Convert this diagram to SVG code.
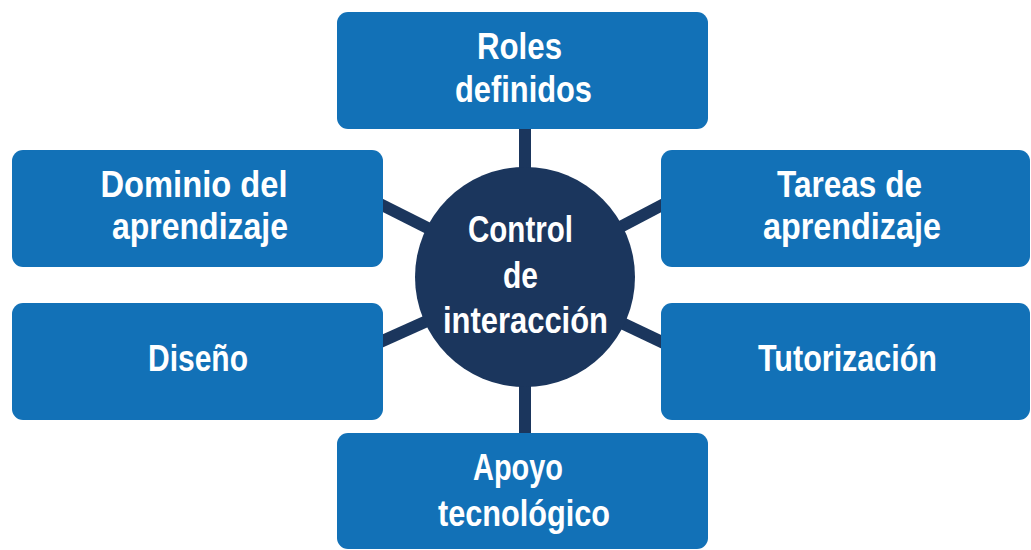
<svg xmlns="http://www.w3.org/2000/svg" width="1031" height="550" viewBox="0 0 1031 550">
<style>
.box{fill:#1271b7}
.hub{fill:#1b365d}
.conn{stroke:#1b365d;stroke-width:12;fill:none}
text{font-family:"Liberation Sans",Arial,sans-serif;font-weight:bold;font-size:37px;fill:#ffffff;text-anchor:middle}
</style>
<rect width="1031" height="550" fill="#ffffff"/>
<g id="connectors">
<line class="conn" x1="525" y1="277" x2="525" y2="125"/>
<line class="conn" x1="525" y1="277" x2="525" y2="438"/>
<line class="conn" x1="525" y1="277" x2="378" y2="203"/>
<line class="conn" x1="525" y1="277" x2="378" y2="343"/>
<line class="conn" x1="525" y1="277" x2="666" y2="203"/>
<line class="conn" x1="525" y1="277" x2="666" y2="344"/>
</g>
<g id="roles">
<rect class="box" x="337" y="12" width="371" height="117" rx="11"/>
<text x="519.5" y="59" textLength="85" lengthAdjust="spacingAndGlyphs">Roles</text>
<text x="523.5" y="102" textLength="137" lengthAdjust="spacingAndGlyphs">definidos</text>
</g>
<g id="dominio">
<rect class="box" x="12" y="150" width="371" height="117" rx="11"/>
<text x="194" y="197" textLength="187" lengthAdjust="spacingAndGlyphs">Dominio del</text>
<text x="200" y="239" textLength="176" lengthAdjust="spacingAndGlyphs">aprendizaje</text>
</g>
<g id="tareas">
<rect class="box" x="661" y="150" width="369" height="117" rx="11"/>
<text x="849.5" y="197" textLength="145" lengthAdjust="spacingAndGlyphs">Tareas de</text>
<text x="852" y="239" textLength="178" lengthAdjust="spacingAndGlyphs">aprendizaje</text>
</g>
<g id="diseno">
<rect class="box" x="12" y="303" width="371" height="117" rx="11"/>
<text x="198" y="371" textLength="100" lengthAdjust="spacingAndGlyphs">Diseño</text>
</g>
<g id="tutorizacion">
<rect class="box" x="661" y="303" width="369" height="117" rx="11"/>
<text x="847.5" y="371" textLength="179" lengthAdjust="spacingAndGlyphs">Tutorización</text>
</g>
<g id="apoyo">
<rect class="box" x="337" y="433" width="371" height="116" rx="11"/>
<text x="518" y="480" textLength="90" lengthAdjust="spacingAndGlyphs">Apoyo</text>
<text x="524" y="526" textLength="172" lengthAdjust="spacingAndGlyphs">tecnológico</text>
</g>
<g id="control">
<circle class="hub" cx="525" cy="277" r="110"/>
<text x="520.5" y="242" textLength="105" lengthAdjust="spacingAndGlyphs">Control</text>
<text x="520.5" y="288" textLength="35" lengthAdjust="spacingAndGlyphs">de</text>
<text x="525.5" y="333" textLength="165" lengthAdjust="spacingAndGlyphs">interacción</text>
</g>
</svg>
